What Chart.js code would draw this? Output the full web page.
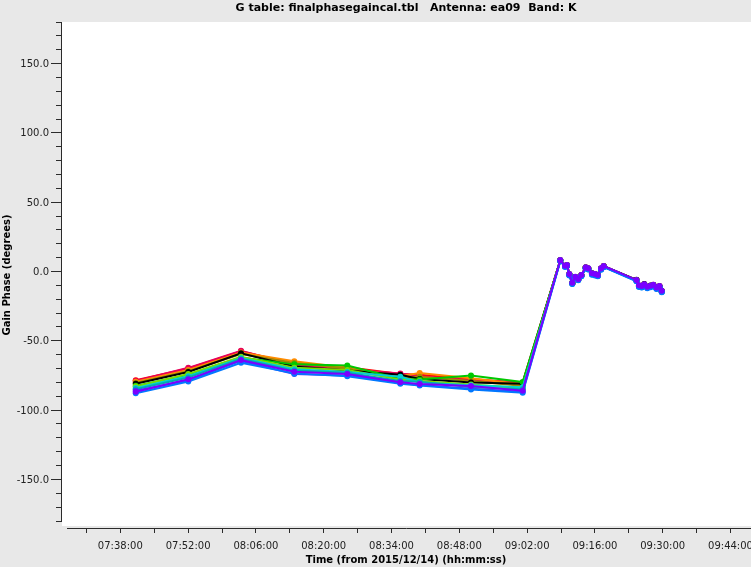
<!DOCTYPE html>
<html><head><meta charset="utf-8">
<script src="https://cdn.jsdelivr.net/npm/chart.js@4.4.1/dist/chart.umd.min.js"></script>
<style>html,body{margin:0;padding:0;background:#e8e8e8;}canvas{display:block;}</style>
</head><body>
<canvas id="c" width="751" height="567"></canvas>
<script>
// Time in seconds since 00:00 on 2015/12/14
const times = [27671, 28322, 28975, 29636, 30292, 30949, 31189, 31825, 32465,
  32931, 32990, 33014, 33043, 33080, 33117, 33154, 33192, 33246, 33278, 33324, 33361, 33395, 33436, 33469,
  33875, 33906, 33940, 33972, 34009, 34049, 34084, 34123, 34160, 34188];

const phaseRed = [-78.5, -70.0, -57.5, -66.5, -69.0, -74.0, -74.5, -77.5, -80.5, 8.1, 4.0, 4.5, -2.0, -8.3, -4.0, -5.6, -2.7, 2.8, 2.1, -1.5, -2.0, -2.7, 2.1, 3.8, -6.3, -10.2, -10.7, -9.4, -11.2, -10.4, -9.7, -11.7, -10.7, -14.1];
const phaseCrimson = [-79.0, -69.5, -57.2, -67.5, -70.5, -73.5, -75.5, -78.5, -80.0, 8.2, 4.1, 4.6, -1.9, -8.2, -3.9, -5.5, -2.6, 2.9, 2.2, -1.4, -1.9, -2.6, 2.2, 3.9, -6.2, -10.1, -10.6, -9.3, -11.1, -10.3, -9.6, -11.6, -10.6, -14.0];
const phaseOrange = [-79.5, -71.0, -58.5, -64.8, -69.5, -75.5, -73.2, -77.0, -81.5, 8.0, 3.9, 4.4, -2.1, -8.4, -4.1, -5.7, -2.8, 2.7, 2.0, -1.6, -2.1, -2.8, 2.0, 3.7, -6.4, -10.3, -10.8, -9.5, -11.3, -10.5, -9.8, -11.8, -10.8, -14.2];
const phaseOlive = [-80.5, -72.0, -59.5, -66.0, -70.0, -76.5, -76.0, -79.0, -82.5, 8.0, 4.0, 4.4, -2.0, -8.3, -4.0, -5.6, -2.8, 2.8, 2.0, -1.5, -2.0, -2.7, 2.1, 3.8, -6.3, -10.2, -10.7, -9.4, -11.2, -10.4, -9.7, -11.7, -10.8, -14.1];
const phaseBlack = [-81.0, -72.5, -59.0, -68.5, -71.5, -74.5, -77.5, -80.0, -81.0, 8.1, 4.1, 4.5, -1.9, -8.4, -3.9, -5.3, -2.7, 2.9, 2.1, -1.2, -2.0, -2.4, 2.0, 3.8, -6.0, -10.3, -10.4, -9.1, -11.3, -10.1, -9.8, -11.4, -10.6, -14.0];
const phaseGreen = [-82.5, -74.5, -62.0, -67.0, -67.8, -77.5, -78.0, -75.0, -79.8, 7.9, 3.8, 4.3, -2.3, -8.6, -4.3, -5.9, -3.0, 2.6, 1.8, -1.8, -2.3, -3.0, 1.8, 3.5, -6.6, -10.6, -11.0, -9.8, -11.6, -10.8, -10.1, -12.1, -11.1, -14.5];
const phaseLime = [-83.0, -74.0, -61.5, -69.5, -71.0, -78.0, -79.0, -81.5, -84.0, 8.2, 4.0, 4.6, -2.0, -8.2, -4.0, -5.5, -2.7, 2.8, 2.1, -1.5, -2.0, -2.7, 2.0, 3.8, -6.3, -10.3, -10.7, -9.5, -11.3, -10.4, -9.8, -11.8, -10.8, -14.2];
const phaseCyan = [-84.0, -75.5, -62.5, -70.5, -72.5, -76.0, -80.0, -82.0, -83.5, 7.7, 3.6, 4.1, -2.5, -8.8, -4.5, -6.0, -3.2, 2.4, 1.6, -2.0, -2.5, -3.2, 1.6, 3.3, -6.8, -10.8, -11.3, -10.0, -11.8, -11.0, -10.3, -12.3, -11.3, -14.7];
const phaseTeal = [-85.0, -76.5, -63.0, -71.5, -73.0, -79.0, -79.5, -83.5, -85.0, 8.0, 3.9, 4.4, -2.2, -8.5, -4.2, -5.8, -2.9, 2.6, 1.9, -1.7, -2.2, -2.9, 1.9, 3.6, -6.5, -10.5, -10.9, -9.7, -11.5, -10.7, -10.0, -12.0, -11.0, -14.4];
const phaseRoyal = [-86.0, -78.5, -64.5, -74.0, -75.0, -80.5, -81.8, -84.5, -86.8, 7.8, 3.7, 4.1, -2.4, -8.7, -4.4, -6.0, -3.1, 2.4, 1.7, -1.9, -2.4, -3.1, 1.7, 3.4, -6.7, -10.7, -11.1, -9.9, -11.7, -10.9, -10.2, -12.2, -11.2, -14.6];
const phaseBlue = [-87.8, -79.3, -65.8, -73.5, -75.5, -81.0, -82.3, -85.2, -87.5, 7.5, 3.3, 3.9, -2.8, -9.1, -4.7, -6.3, -3.4, 2.1, 1.4, -2.3, -2.8, -3.5, 1.3, 3.1, -7.1, -11.1, -11.6, -10.3, -12.1, -11.3, -10.6, -12.6, -11.6, -15.0];
const phasePurple = [-86.7, -77.8, -63.8, -72.3, -73.9, -79.9, -81.2, -82.6, -86.0, 8.3, 4.2, 4.7, -1.8, -8.1, -3.8, -5.4, -2.5, 3.0, 2.3, -1.3, -1.8, -2.5, 2.3, 4.0, -6.1, -10.0, -10.5, -9.2, -11.0, -10.2, -9.5, -11.5, -10.5, -13.9];

// bottom -> top drawing order
const seriesList = [phaseRed, phaseCrimson, phaseOrange, phaseOlive, phaseBlack, phaseGreen, phaseLime, phaseCyan, phaseTeal, phaseRoyal, phaseBlue, phasePurple];
const seriesColors = ['#ff0000', '#e6005a', '#ff8c00', '#a08c00', '#000000', '#00c800', '#78dc00', '#00d2d2', '#00aab4', '#3c3cff', '#0078ff', '#7a00ff'];

const xTickValues = [27060, 27480, 27900, 28320, 28740, 29160, 29580, 30000, 30420, 30840, 31260, 31680, 32100, 32520, 32940, 33360, 33780, 34200, 34620, 35040];
const xTickLabels = ['', '07:38:00', '', '07:52:00', '', '08:06:00', '', '08:20:00', '', '08:34:00', '', '08:48:00', '', '09:02:00', '', '09:16:00', '', '09:30:00', '', '09:44:00'];
const yTickValues = [-180, -170, -160, -150, -140, -130, -120, -110, -100, -90, -80, -70, -60, -50, -40, -30, -20, -10, 0, 10, 20, 30, 40, 50, 60, 70, 80, 90, 100, 110, 120, 130, 140, 150, 160, 170, 180];
const yMajorLabels = {'-150': '-150.0', '-100': '-100.0', '-50': '-50.0', '0': '0.0', '50': '50.0', '100': '100.0', '150': '150.0'};

const chartTitle = 'G table: finalphasegaincal.tbl   Antenna: ea09  Band: K';
const xTitle = 'Time (from 2015/12/14) (hh:mm:ss)';
const yTitle = 'Gain Phase (degrees)';

const BG = '#e8e8e8';
const AX = '#2b2b2b';
const FONT = 'DejaVu Sans';

const datasets = [];
for (let s = seriesList.length - 1; s >= 0; s--) {
  const vals = seriesList[s];
  datasets.push({
    data: times.map((t, i) => ({x: t, y: vals[i]})),
    borderColor: seriesColors[s],
    backgroundColor: seriesColors[s],
    pointBackgroundColor: seriesColors[s],
    borderWidth: 2,
    pointRadius: 3,
    pointBorderWidth: 0,
    tension: 0,
    fill: false
  });
}

const bgPlugin = {
  id: 'bg',
  beforeDraw(chart) {
    const c = chart.ctx, a = chart.chartArea;
    c.save();
    c.fillStyle = BG; c.fillRect(0, 0, chart.width, chart.height);
    c.fillStyle = '#ffffff'; c.fillRect(a.left + 1, a.top, a.right - a.left - 1, a.bottom - a.top - 2);
    c.restore();
  },
  afterDraw(chart) {
    const c = chart.ctx, a = chart.chartArea;
    c.save();
    c.fillStyle = BG;
    c.fillRect(0, a.bottom - 6, a.left + 1, 14);
    c.fillRect(a.left + 1, a.bottom - 2, 5, 10);
    c.restore();
  }
};

new Chart(document.getElementById('c'), {
  type: 'line',
  data: {datasets},
  plugins: [bgPlugin],
  options: {
    responsive: false,
    animation: false,
    devicePixelRatio: 1,
    layout: {padding: 0, autoPadding: false},
    plugins: {
      legend: {display: false},
      tooltip: {enabled: false},
      title: {
        display: true, text: chartTitle, fullSize: false, color: '#000',
        font: {family: FONT, size: 11, weight: 'bold'},
        padding: {top: 1.5, bottom: 7.3}
      }
    },
    scales: {
      x: {
        type: 'linear', min: 26745, max: 35294,
        afterBuildTicks: s => { s.ticks = xTickValues.map(v => ({value: v})); },
        afterFit: s => { s.height = 39; s.paddingLeft = 0; s.paddingRight = 0; },
        grid: {drawOnChartArea: false, tickLength: 5, color: AX, tickColor: AX},
        border: {color: AX, width: 1},
        ticks: {
          autoSkip: false, maxRotation: 0, minRotation: 0, padding: 7, color: '#222',
          font: {family: FONT, size: 10},
          callback: v => xTickLabels[xTickValues.indexOf(v)] || ''
        },
        title: {display: true, text: xTitle, color: '#000', font: {family: FONT, size: 10, weight: 'bold'}, padding: {top: 0, bottom: 1}}
      },
      y: {
        type: 'linear', min: -185.05, max: 180,
        afterBuildTicks: s => { s.ticks = yTickValues.map(v => ({value: v})); },
        afterFit: s => { s.width = 61; s.paddingTop = 0; s.paddingBottom = 0; },
        grid: {
          drawOnChartArea: false, tickLength: 10, color: AX, tickColor: AX,
          tickBorderDash: ctx => (ctx.tick && ctx.tick.value % 50 !== 0) ? [5, 5] : [],
          tickBorderDashOffset: ctx => (ctx.tick && ctx.tick.value % 50 !== 0) ? 5 : 0
        },
        border: {color: AX, width: 1},
        ticks: {
          autoSkip: false, padding: 2, color: '#222', labelOffset: 1,
          font: {family: FONT, size: 10},
          callback: v => yMajorLabels[String(v)] || ''
        },
        title: {display: true, text: yTitle, color: '#000', font: {family: FONT, size: 10, weight: 'bold'}, padding: {top: 1, bottom: 0}}
      }
    }
  }
});
</script>
</body></html>
